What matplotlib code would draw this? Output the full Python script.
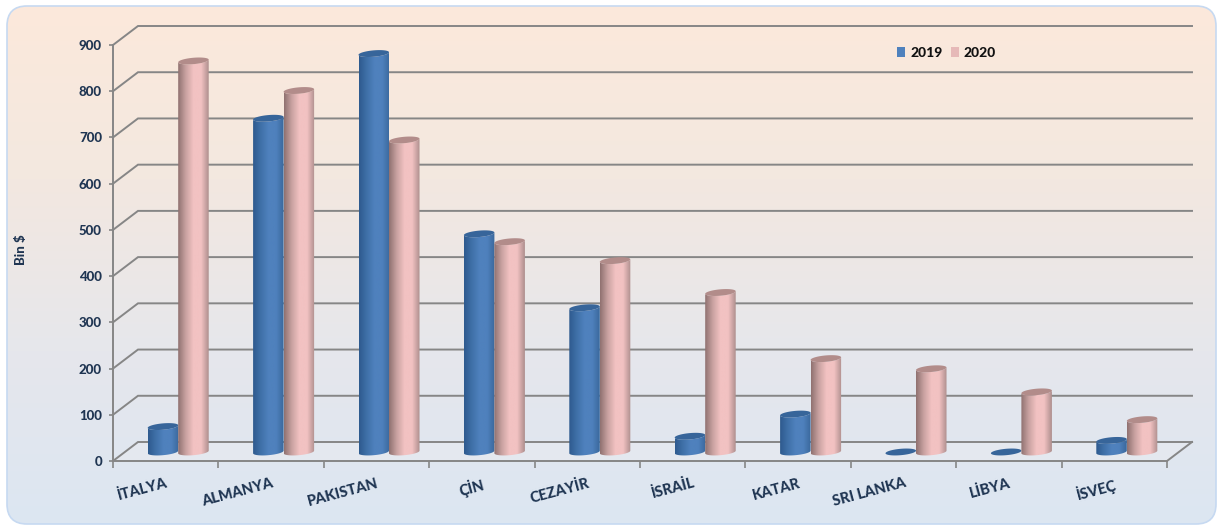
import numpy as np
import matplotlib
matplotlib.use("Agg")
import matplotlib.pyplot as plt
from matplotlib.colors import LinearSegmentedColormap
from matplotlib.patches import FancyBboxPatch, Polygon, Patch
from matplotlib.path import Path
from matplotlib.patches import PathPatch

categories = ["İTALYA", "ALMANYA", "PAKISTAN", "ÇİN", "CEZAYİR", "İSRAİL", "KATAR", "SRI LANKA", "LİBYA", "İSVEÇ"]
values_2019 = [55, 722, 862, 472, 312, 34, 82, 0, 0, 25]
values_2020 = [846, 782, 675, 455, 414, 345, 202, 180, 130, 70]
yticks = [0, 100, 200, 300, 400, 500, 600, 700, 800, 900]

W, H = 1217, 525
plt.rcParams["font.family"] = ["Lato", "DejaVu Sans"]
fig = plt.figure(figsize=(W / 100, H / 100), dpi=100, facecolor="white")

# rounded gradient panel
bg = fig.add_axes([0, 0, 1, 1], zorder=0)
bg.set_xlim(0, W); bg.set_ylim(H, 0); bg.axis("off")
cmap_bg = LinearSegmentedColormap.from_list("bg", ["#FCE9DB", "#F3E8E0", "#E6E7EC", "#DCE6F2"])
im = bg.imshow(np.linspace(0, 1, 256)[:, None], extent=[7, 1216, 524, 6], cmap=cmap_bg, aspect="auto")
panel = FancyBboxPatch((27, 26), 1169, 478, boxstyle="round,pad=20,rounding_size=20",
                       fc="none", ec="#C6D9F1", lw=1.2, transform=bg.transData, clip_on=False)
bg.add_patch(panel)
im.set_clip_path(panel)

# plotting axes: 0..10 categories, 0..900 value
ax = fig.add_axes([113 / W, 1 - 461 / H, (1167 - 113) / W, (461 - 45) / H], zorder=1)
ax.patch.set_alpha(0)
px_x = (1167 - 113) / 10
px_y = (461 - 45) / 900
dx = 25 / px_x
dy = 19 / px_y
grey = "#868686"
navy = "#1F3552"

# floor and wall grid
ax.add_patch(Polygon([(0, 0), (dx, dy), (10 + dx, dy), (10, 0)], closed=True, fc="#E4E8EF", ec="none", zorder=0.5, clip_on=False))
for v in yticks:
    ax.plot([0, dx, 10 + dx], [v, v + dy, v + dy], color=grey, lw=1.4, zorder=1, clip_on=False, solid_joinstyle="miter")
ax.plot([10, 10 + dx], [0, dy], color=grey, lw=1.4, zorder=1, clip_on=False)

blue_cm = LinearSegmentedColormap.from_list("b", ["#2E5A8E", "#3F70A8", "#4F81BD", "#4F81BD", "#3A689C"])
pink_cm = LinearSegmentedColormap.from_list("p", ["#8F7170", "#C9A2A1", "#F2C2C2", "#F2C2C2", "#AD8E8D"])
blue_top, pink_top = "#37659A", "#B28C8A"

bar_w = 30.5 / px_x
ry = 3.2 / px_y
tilt = 1.3 / px_y
base = 19.5
shift = dx / 2
gradient = np.linspace(0, 1, 128)[None, :]


def cylinder(cx, value, cm, top_color, z):
    a = bar_w / 2
    y0, y1 = base, base + value
    t = np.linspace(0, 2 * np.pi, 80)
    if value > 0:
        th = np.linspace(0, np.pi, 40)
        # lower rim runs left to right, upper rim right to left; right side sits higher
        lower = np.column_stack([cx - a * np.cos(th), y0 - ry * np.sin(th) - tilt * np.cos(th)])
        upper = np.column_stack([cx + a * np.cos(th), y1 - ry * np.sin(th) + tilt * np.cos(th)])
        pts = np.vstack([lower, upper, lower[:1]])
        clip = PathPatch(Path(pts), fc="none", ec="none", transform=ax.transData)
        ax.add_patch(clip)
        img = ax.imshow(gradient, extent=[cx - a, cx + a, y0 - ry - tilt, y1 + ry + tilt], cmap=cm,
                        aspect="auto", zorder=z)
        img.set_clip_path(clip)
    ring = np.column_stack([cx + a * np.cos(t), y1 + ry * np.sin(t) + tilt * np.cos(t)])
    ax.add_patch(Polygon(ring, closed=True, fc=top_color, ec="none", zorder=z + 0.01))


for i, (a, b) in enumerate(zip(values_2019, values_2020)):
    c = i + 0.5 + shift
    cylinder(c - bar_w / 2, a, blue_cm, blue_top, 2 + i * 0.1)
    cylinder(c + bar_w / 2, b, pink_cm, pink_top, 2.05 + i * 0.1)

ax.set_xlim(0, 10)
ax.set_ylim(0, 900)

# axes and ticks
for s in ("top", "right"):
    ax.spines[s].set_visible(False)
for s in ("left", "bottom"):
    ax.spines[s].set_color(grey)
    ax.spines[s].set_linewidth(1.4)
ax.set_yticks(yticks)
ax.set_yticklabels([str(v) for v in yticks], fontsize=9.5, fontweight="black", color=navy)
ax.tick_params(axis="y", length=3, color=grey, width=1.2, pad=5)
ax.set_xticks(np.arange(len(categories)) + 0.5)
ax.set_xticklabels(categories, rotation=15, ha="right", rotation_mode="anchor",
                   fontsize=10.5, fontweight="black", color=navy)
ax.tick_params(axis="x", which="major", length=0, pad=11)
ax.set_xticks(np.arange(0, 11), minor=True)
ax.tick_params(axis="x", which="minor", length=5, color=grey, width=1.2)

fig.text(21 / W, 1 - 250 / H, "Bin $", rotation=90, ha="center", va="center",
         fontsize=9.5, fontweight="black", color=navy)

handles = [Patch(fc="#4F81BD", label="2019"), Patch(fc="#E6B9B8", label="2020")]
leg = ax.legend(handles=handles, loc="center left", bbox_to_anchor=((897 - 113) / (1167 - 113), (461 - 53) / 416),
                ncol=2, frameon=False, handlelength=0.6, handleheight=0.7, handletextpad=0.35,
                columnspacing=0.6, borderpad=0, borderaxespad=0,
                prop={"size": 10, "weight": "black"})
for t in leg.get_texts():
    t.set_color("#111111")

fig.savefig("out.png", dpi=100)
